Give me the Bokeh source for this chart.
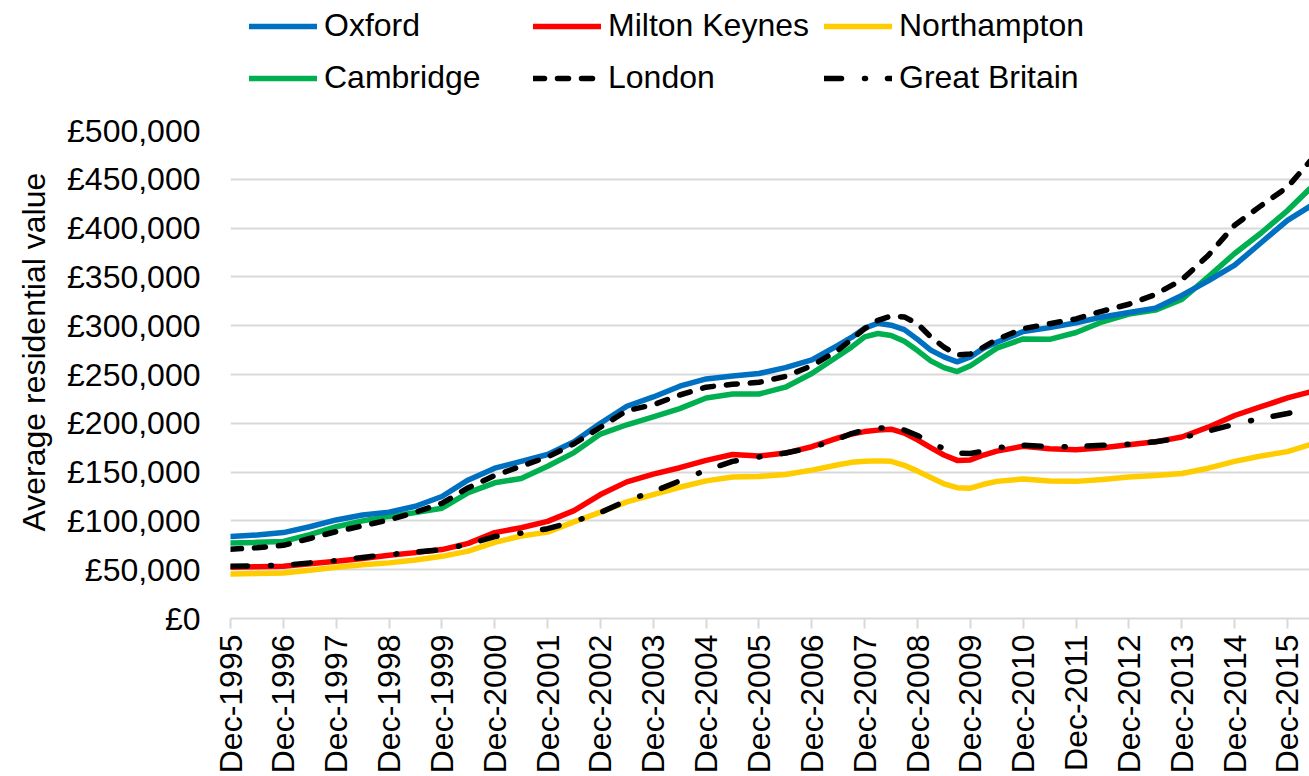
import math
from bokeh.plotting import figure
from bokeh.layouts import column
from bokeh.models import Range1d, FixedTicker, Legend, LegendItem, Title
from bokeh.embed import file_html
from bokeh.resources import INLINE

# ---- data (values in thousands of pounds), months since Dec-1995 ----
months = [0, 6, 12, 18, 24, 30, 36, 42, 48, 54, 60, 66, 72, 78, 84, 90, 96, 102, 108, 114,
          120, 126, 132, 138, 141, 144, 147, 150, 153, 156, 159, 162, 165, 168, 171, 174,
          180, 186, 192, 198, 204, 210, 216, 222, 228, 234, 240, 245]

oxford = [84, 85.5, 88, 94, 101, 106, 109, 115, 125, 142, 154, 161, 168, 181, 200, 217.5, 227, 238, 245.5, 248.5,
          251, 257, 265, 280, 288, 297.5, 302.5, 300.5, 296, 286, 275, 268, 263, 268, 277, 283,
          294, 298, 303, 309, 313.5, 318, 331, 346, 362, 385, 408, 422]

cambridge = [77.4, 78, 79, 86, 94, 100, 104.6, 108.5, 113, 129, 139, 143.5, 156, 170, 189, 198.5, 206.5, 215, 226, 230,
             230, 237, 251, 269, 278, 288.5, 292, 290, 284, 274.5, 264, 257, 253, 259, 268, 277,
             286.5, 286, 293, 304, 312, 316, 327, 350, 374, 395, 418, 440]

london = [71, 72.5, 75, 82, 89, 95, 101, 109, 118, 134, 146.5, 156, 165.5, 179, 196, 213, 219, 229, 237, 240,
          242, 248, 259, 275, 286, 297, 305.5, 310, 309, 302, 288.5, 278, 270, 271, 278, 286,
          297, 302, 307, 315, 322, 332, 347, 372, 403, 423, 442, 468]

milton_keynes = [52.5, 53, 53.5, 56, 58.6, 61.5, 64.7, 67.5, 70.6, 77, 88, 93, 99.5, 110.5, 127, 140, 148, 154.5, 162, 168,
                 166.5, 169.5, 176, 185, 189, 191.5, 193, 194, 190, 183, 175, 167.5, 162, 162.5, 167.5, 171.5,
                 176.5, 174, 173, 175, 178, 181, 186, 196, 208, 217, 226, 232]

great_britain = [53.5, 54, 54.5, 57, 59.3, 62.5, 65.5, 68, 70.6, 76, 84, 87.5, 92, 99.5, 108.5, 121, 130, 141, 152, 161,
                 165.5, 169.5, 175, 184, 189.5, 193, 195, 195.5, 193, 187.5, 180, 174, 169.5, 169, 171.5, 175,
                 177.5, 176, 176, 177.5, 178.5, 181, 185, 192, 199, 205, 210, 215]

northampton = [45.7, 46, 46.7, 49.5, 52.5, 55, 57, 60, 63.7, 69, 78, 84.5, 88.5, 99, 109, 119.5, 127, 134.5, 141, 145,
               145.5, 147.5, 152, 157.5, 160, 161, 161.5, 161, 157, 151, 144.5, 138, 134, 133.5, 137.5, 140.5,
               143, 141, 140.5, 142.5, 145, 146.5, 148.5, 154, 161, 166.5, 171, 178]

tick_months = [0, 12, 24, 36, 48, 60, 72, 84, 96, 108, 120, 132, 144, 156, 168, 180, 192, 204, 216, 228, 240]
tick_labels = ["Dec-1995", "Dec-1996", "Dec-1997", "Dec-1998", "Dec-1999", "Dec-2000", "Dec-2001",
               "Dec-2002", "Dec-2003", "Dec-2004", "Dec-2005", "Dec-2006", "Dec-2007", "Dec-2008",
               "Dec-2009", "Dec-2010", "Dec-2011", "Dec-2012", "Dec-2013", "Dec-2014", "Dec-2015"]
y_ticks = [0, 50000, 100000, 150000, 200000, 250000, 300000, 350000, 400000, 450000, 500000]

series = [
    ("Oxford", oxford, "#0070C0", "solid"),
    ("Milton Keynes", milton_keynes, "#FF0000", "solid"),
    ("Northampton", northampton, "#FFCC00", "solid"),
    ("Cambridge", cambridge, "#00B050", "solid"),
    ("London", london, "black", "11 13"),
    ("Great Britain", great_britain, "black", "17 23 1 22"),
]
draw_order = ["Northampton", "Cambridge", "Oxford", "Milton Keynes", "London", "Great Britain"]

FONT = "Liberation Sans"
FS = "32px"
GRID = "#d9d9d9"
W = 5.5

# ---------------- main chart ----------------
p = figure(width=1309, height=676, output_backend="svg", toolbar_location=None,
           x_range=Range1d(0, 245), y_range=Range1d(0, 500000),
           min_border_left=227, min_border_right=0, min_border_top=30, min_border_bottom=157)
p.outline_line_color = None
p.xgrid.grid_line_color = None
p.ygrid.grid_line_color = GRID
p.ygrid.grid_line_width = 2

p.yaxis.ticker = FixedTicker(ticks=y_ticks)
p.yaxis.major_label_overrides = {v: "£{:,}".format(v) for v in y_ticks}
p.yaxis.axis_line_color = None
p.yaxis.major_tick_line_color = None
p.yaxis.minor_tick_line_color = None
p.yaxis.major_tick_out = 0
p.yaxis.major_tick_in = 0
p.yaxis.major_label_standoff = 30
p.yaxis.major_label_text_font = FONT
p.yaxis.major_label_text_font_size = FS
p.yaxis.major_label_text_color = "black"

ytitle = Title(text="Average residential value", align="left", offset=87,
               text_font=FONT, text_font_size=FS, text_font_style="normal",
               text_color="black", standoff=26)
p.add_layout(ytitle, "left")

p.xaxis.ticker = FixedTicker(ticks=tick_months)
p.xaxis.major_label_overrides = {m: l for m, l in zip(tick_months, tick_labels)}
p.xaxis.major_label_orientation = math.pi / 2
p.xaxis.axis_line_color = GRID
p.xaxis.axis_line_width = 2
p.xaxis.major_tick_line_color = GRID
p.xaxis.major_tick_line_width = 2
p.xaxis.major_tick_in = 0
p.xaxis.major_tick_out = 10
p.xaxis.minor_tick_line_color = None
p.xaxis.major_label_standoff = 6
p.xaxis.major_label_text_font = FONT
p.xaxis.major_label_text_font_size = FS
p.xaxis.major_label_text_color = "black"

style = {name: (vals, color, dash) for name, vals, color, dash in series}
for name in draw_order:
    vals, color, dash = style[name]
    p.line(months, [v * 1000 for v in vals], line_color=color, line_width=W,
           line_dash=dash, line_cap="round", line_join="round")

# ---------------- legend strip (series drawn out of view; only legend shows) ----------------
lg = figure(width=1309, height=100, output_backend="svg", toolbar_location=None,
            x_range=Range1d(-20, -10), y_range=Range1d(0, 1),
            x_axis_type=None, y_axis_type=None,
            min_border_left=227, min_border_right=0, min_border_top=0, min_border_bottom=0)
lg.outline_line_color = None
lg.xgrid.grid_line_color = None
lg.ygrid.grid_line_color = None

items = []
for name, vals, color, dash in series:
    r = lg.line(months, vals, line_color=color, line_width=W, line_dash=dash, line_cap="round")
    items.append(LegendItem(label=name, renderers=[r]))

legend = Legend(items=items, location=(19, 4), orientation="horizontal", ncols=3)
legend.padding = 0
legend.margin = 0
legend.spacing = 15
legend.border_line_color = None
legend.background_fill_alpha = 0
legend.glyph_width = 68
legend.glyph_height = 36
legend.label_height = 36
legend.label_width = 194
legend.label_standoff = 7
legend.label_text_font = FONT
legend.label_text_font_size = FS
legend.label_text_color = "black"
lg.add_layout(legend, "center")

layout = column(lg, p, spacing=0)
open("out.html", "w").write(file_html(layout, INLINE))
